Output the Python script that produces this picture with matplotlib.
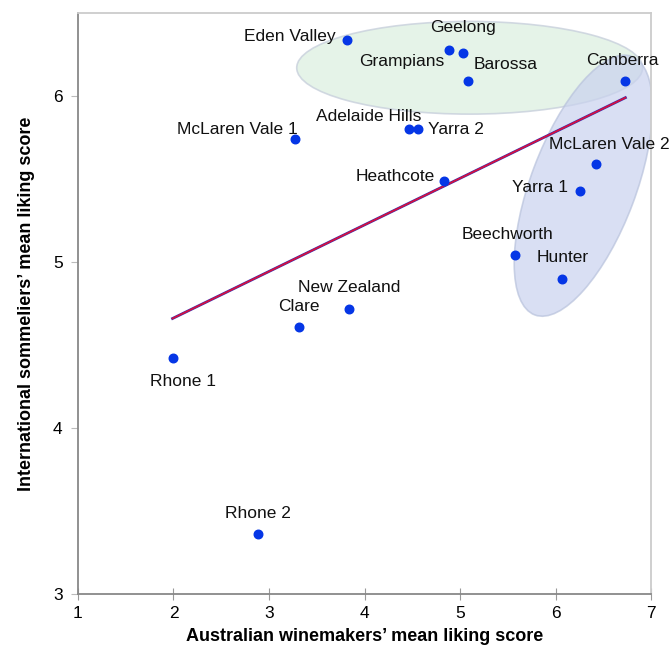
import matplotlib
matplotlib.use("Agg")
import matplotlib.pyplot as plt
from matplotlib.patches import Ellipse
from matplotlib.transforms import Affine2D

plt.rcParams["font.family"] = ["Liberation Sans", "DejaVu Sans"]

# Data
regions = ["Eden Valley", "Grampians", "Geelong", "Barossa", "Canberra",
           "Adelaide Hills", "Yarra 2", "McLaren Vale 1", "McLaren Vale 2",
           "Heathcote", "Yarra 1", "Beechworth", "Hunter", "New Zealand",
           "Clare", "Rhone 1", "Rhone 2"]
winemakers = [3.82, 4.88, 5.03, 5.08, 6.73, 4.47, 4.56, 3.27, 6.42,
              4.83, 6.26, 5.57, 6.07, 3.84, 3.31, 1.99, 2.88]
sommeliers = [6.34, 6.28, 6.26, 6.09, 6.09, 5.80, 5.80, 5.74, 5.59,
              5.49, 5.43, 5.04, 4.90, 4.72, 4.61, 4.42, 3.36]

# trend line end points
trend_x = [1.99, 6.73]
trend_y = [4.66, 5.99]

# label offsets in pixels (dx, dy, ha)
label_pos = {
    "Eden Valley": (-12, 3, "right"),
    "Grampians": (-4, -12, "right"),
    "Geelong": (0, 25, "center"),
    "Barossa": (6, 17, "left"),
    "Canberra": (-3, 21, "center"),
    "Adelaide Hills": (-41, 13, "center"),
    "Yarra 2": (10, 0, "left"),
    "McLaren Vale 1": (3, 10, "right"),
    "McLaren Vale 2": (14, 20, "center"),
    "Heathcote": (-9, 4, "right"),
    "Yarra 1": (-12, 3, "right"),
    "Beechworth": (-7, 21, "center"),
    "Hunter": (0, 21, "center"),
    "New Zealand": (0, 21, "center"),
    "Clare": (0, 20, "center"),
    "Rhone 1": (10, -23, "center"),
    "Rhone 2": (0, 21, "center"),
}

fig = plt.figure(figsize=(6.72, 6.5), dpi=100)
ax = fig.add_axes([0.116, 0.086, 0.853, 0.894])
ax.set_xlim(1, 7)
ax.set_ylim(3, 6.5)

# ellipses drawn in a space where x and y have equal pixel scale
k = (0.894 * 650 / 3.5) / (0.853 * 672 / 6)
iso = Affine2D().scale(1, 1 / k) + ax.transData
green = Ellipse((5.10, 6.17 * k), 3.62, 0.97, angle=0, transform=iso,
                facecolor="#dff0e3", edgecolor="#c8d0dc", lw=1.2, alpha=0.8, zorder=1)
blue = Ellipse((6.29, 5.46 * k), 2.89, 1.10, angle=69.4, transform=iso,
               facecolor="#c9d2ee", edgecolor="#b8c2dc", lw=1.2, alpha=0.7, zorder=1)
ax.add_patch(green)
ax.add_patch(blue)

ax.plot(trend_x, trend_y, color="#3a2fb0", lw=2.0, zorder=2)
ax.plot(trend_x, trend_y, color="#d8103c", lw=1.2, zorder=2)

ax.scatter(winemakers, sommeliers, s=38, color="#0536e6", zorder=3)

for name, x, y in zip(regions, winemakers, sommeliers):
    dx, dy, ha = label_pos[name]
    ax.annotate(name, (x, y), xytext=(dx, dy), textcoords="offset pixels",
                ha=ha, va="center", fontsize=12.5, color="#111111", zorder=4,
                annotation_clip=False)

ax.set_xticks([1, 2, 3, 4, 5, 6, 7])
ax.set_yticks([3, 4, 5, 6])
ax.tick_params(axis="x", direction="inout", length=9, color="#999999",
               labelsize=12.5, pad=4)
ax.tick_params(axis="y", direction="out", length=5, color="#bbbbbb",
               labelsize=12.5, pad=6)
for s in ["left", "bottom"]:
    ax.spines[s].set_color("#888888")
    ax.spines[s].set_linewidth(1.3)
for s in ["top", "right"]:
    ax.spines[s].set_color("#cccccc")
    ax.spines[s].set_linewidth(1.3)

ax.set_xlabel("Australian winemakers\u2019 mean liking score",
              fontsize=13, fontweight="bold", labelpad=5)
ax.set_ylabel("International sommeliers\u2019 mean liking score",
              fontsize=13, fontweight="bold", labelpad=13)

fig.savefig("out.png", dpi=100)
